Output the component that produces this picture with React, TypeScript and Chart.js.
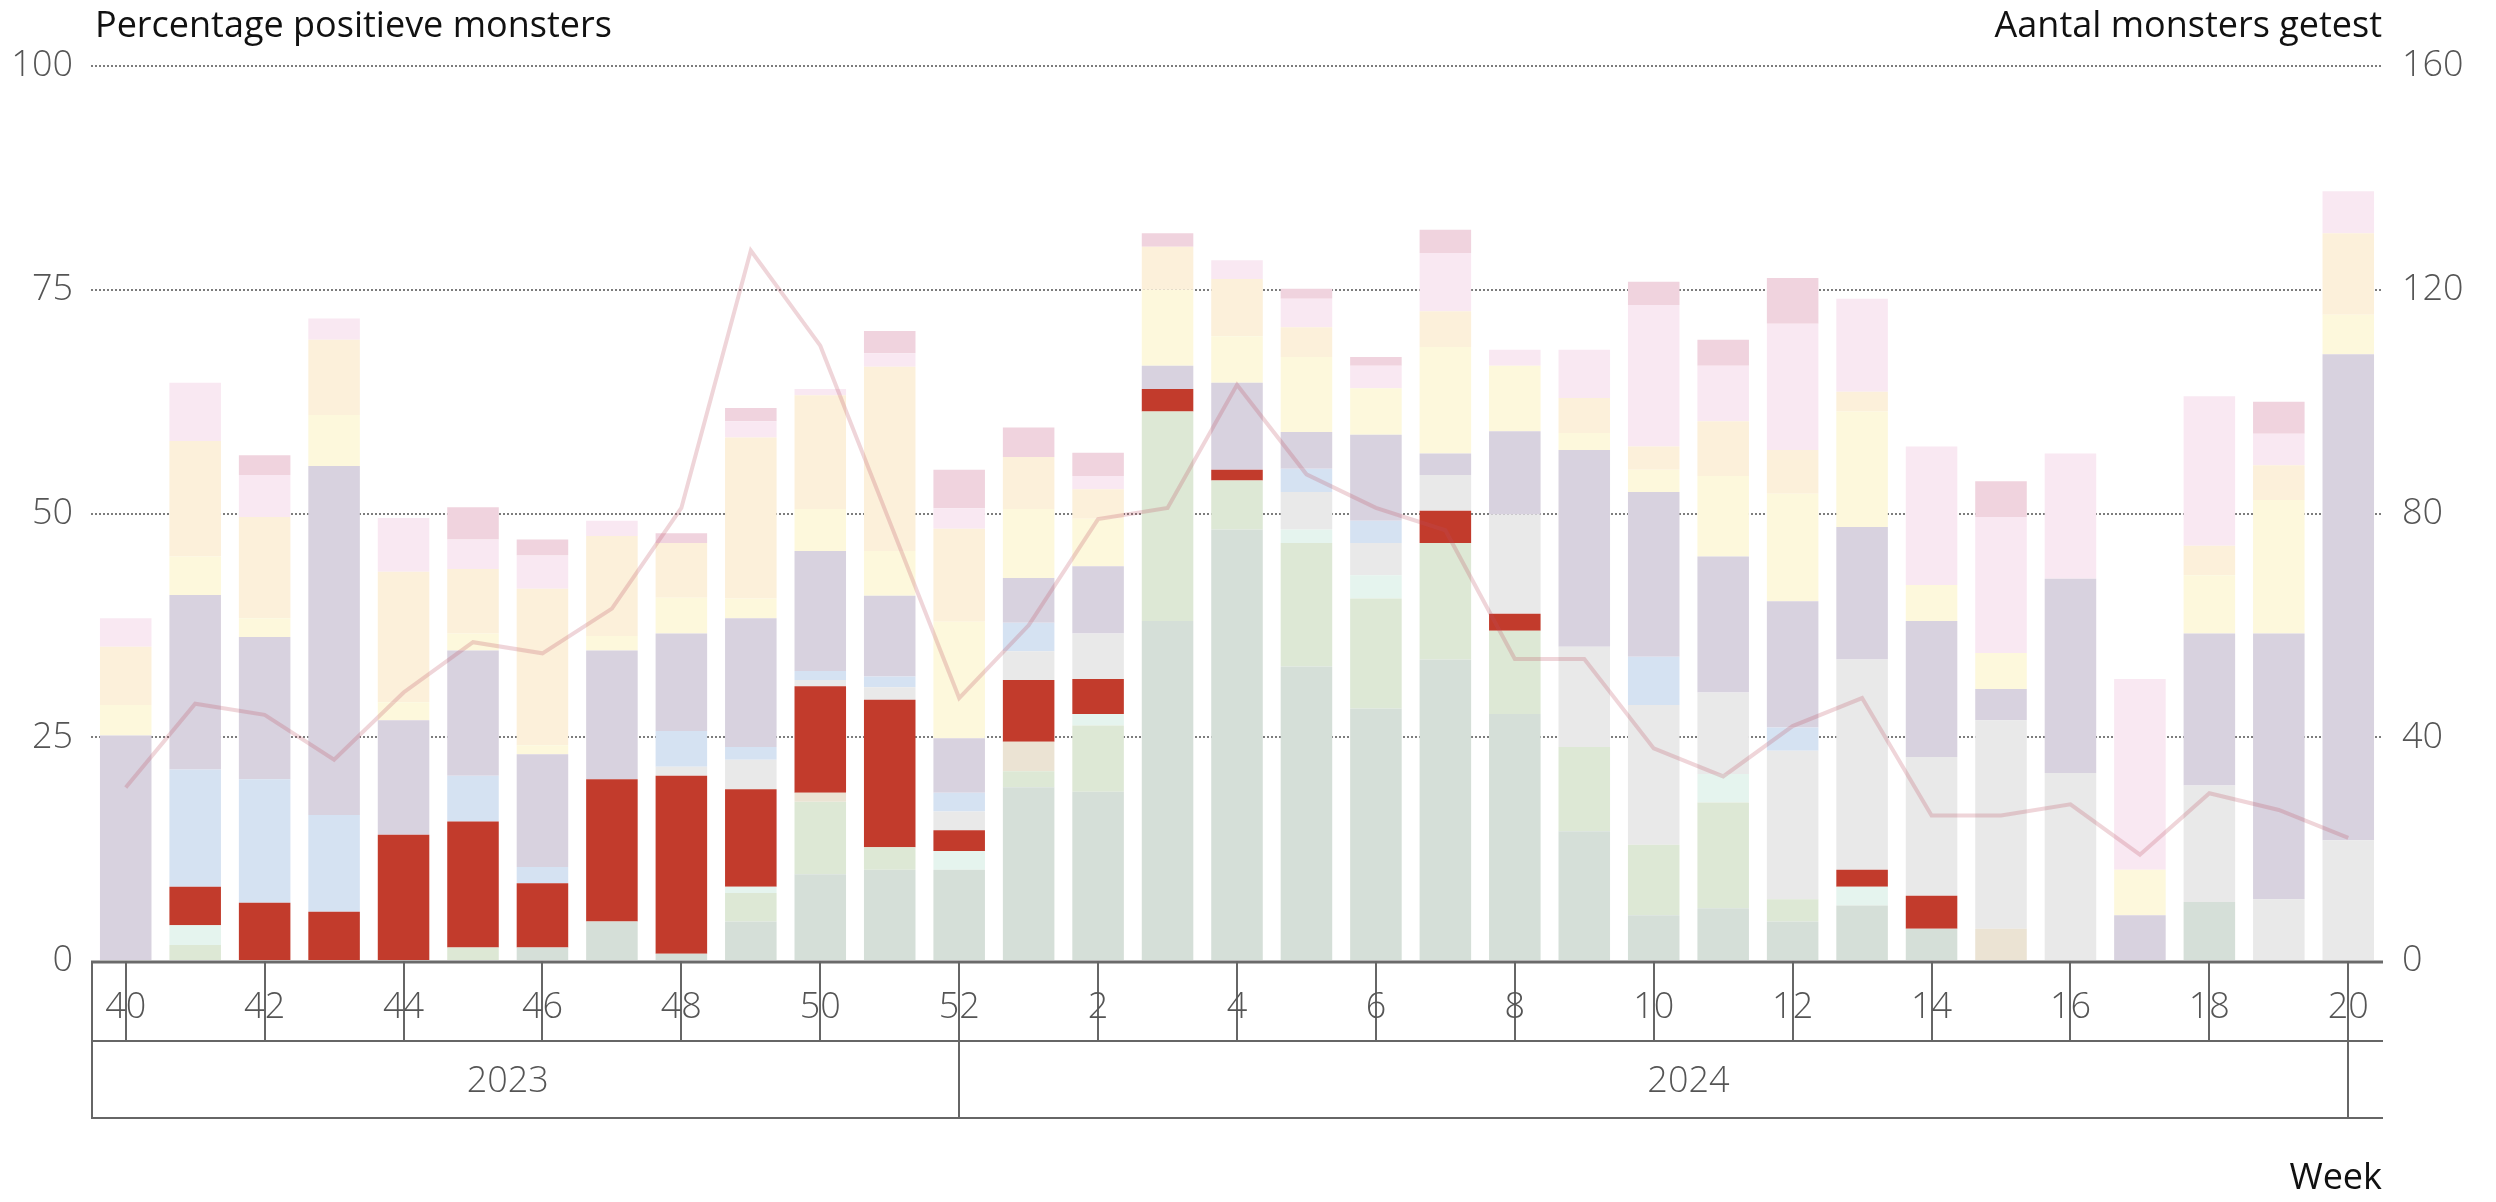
import React, { useEffect, useRef } from "react";
import { Chart, registerables } from "chart.js";

Chart.register(...registerables);

// ---- Data ----
const weeks = [
  "40", "41", "42", "43", "44", "45", "46", "47", "48", "49", "50", "51", "52",
  "1", "2", "3", "4", "5", "6", "7", "8", "9", "10", "11", "12", "13", "14", "15", "16", "17", "18", "19", "20",
];
const yearLabels = ["2023", "2024"];

// stacked series (percentage positive samples), bottom to top
const seriesGrayGreen = [0, 0, 0, 0, 0, 0, 1.5, 4.4, 0.8, 4.4, 9.7, 10.2, 10.2, 19.4, 18.9, 38.0, 48.2, 32.9, 28.2, 33.7, 27.6, 14.5, 5.1, 5.9, 4.4, 6.2, 3.6, 0, 0, 0, 6.6, 0, 0];
const seriesLightGreen = [0, 1.8, 0, 0, 0, 1.5, 0, 0, 0, 3.2, 8.1, 2.5, 0, 1.8, 7.4, 23.4, 5.5, 13.8, 12.3, 13.0, 9.3, 9.4, 7.9, 11.8, 2.5, 0, 0, 0, 0, 0, 0, 0, 0];
const seriesMint = [0, 2.2, 0, 0, 0, 0, 0, 0, 0, 0.7, 0, 0, 2.1, 0, 1.3, 0, 0, 1.5, 2.6, 0, 0, 0, 0, 3.2, 0, 2.1, 0, 0, 0, 0, 0, 0, 0];
const seriesTan = [0, 0, 0, 0, 0, 0, 0, 0, 0, 0, 1.0, 0, 0, 3.3, 0, 0, 0, 0, 0, 0, 0, 0, 0, 0, 0, 0, 0, 3.6, 0, 0, 0, 0, 0];
const seriesRed = [0, 4.3, 6.5, 5.5, 14.1, 14.1, 7.2, 15.9, 19.9, 10.9, 11.9, 16.5, 2.3, 6.9, 3.9, 2.5, 1.2, 0, 0, 3.6, 1.9, 0, 0, 0, 0, 1.9, 3.7, 0, 0, 0, 0, 0, 0];
const seriesGray = [0, 0, 0, 0, 0, 0, 0, 0, 1.0, 3.3, 0.7, 1.4, 2.1, 3.2, 5.1, 0, 0, 4.2, 3.6, 4.0, 11.1, 11.2, 15.6, 9.1, 16.6, 23.5, 15.5, 23.3, 21.0, 0, 13.0, 6.9, 13.5];
const seriesBlue = [0, 13.1, 13.8, 10.8, 0, 5.1, 1.8, 0, 4.0, 1.4, 1.0, 1.2, 2.1, 3.2, 0, 0, 0, 2.6, 2.5, 0, 0, 0, 5.4, 0, 2.6, 0, 0, 0, 0, 0, 0, 0, 0];
const seriesPurple = [25.2, 19.5, 15.9, 39.0, 12.8, 14.0, 12.6, 14.4, 10.9, 14.4, 13.4, 9.0, 6.1, 5.0, 7.5, 2.6, 9.7, 4.1, 9.6, 2.4, 9.3, 22.0, 18.4, 15.2, 14.1, 14.8, 15.2, 3.5, 21.7, 5.1, 17.0, 29.7, 54.3];
const seriesYellow = [3.4, 4.3, 2.1, 5.7, 2.0, 1.9, 1.0, 1.6, 4.0, 2.2, 4.7, 5.0, 13.0, 7.7, 5.3, 8.5, 5.2, 8.4, 5.2, 11.9, 7.3, 1.9, 2.5, 9.0, 12.0, 12.9, 4.0, 4.0, 0, 5.1, 6.5, 14.9, 4.4];
const seriesPeach = [6.5, 12.9, 11.3, 8.4, 14.6, 7.2, 17.5, 11.2, 6.1, 18.0, 12.7, 20.6, 10.4, 5.8, 3.3, 4.8, 6.4, 3.3, 0, 4.0, 0, 3.9, 2.6, 6.1, 4.9, 2.2, 0, 0, 0, 0, 3.3, 3.9, 9.1];
const seriesLightPink = [3.2, 6.5, 4.7, 2.4, 6.0, 3.3, 3.7, 1.7, 0, 1.8, 0.7, 1.5, 2.3, 0, 1.5, 0, 2.1, 3.2, 2.5, 6.5, 1.8, 5.4, 15.8, 6.2, 14.1, 10.4, 15.5, 15.2, 14.0, 21.3, 16.7, 3.5, 4.7];
const seriesDarkPink = [0, 0, 2.2, 0, 0, 3.6, 1.8, 0, 1.1, 1.5, 0, 2.5, 4.3, 3.3, 2.6, 1.5, 0, 1.1, 1.0, 2.6, 0, 0, 2.6, 2.9, 5.1, 0, 0, 4.0, 0, 0, 0, 3.6, 0];

// line series (number of samples tested, right axis)
const samplesTested = [31, 46, 44, 36, 48, 57, 55, 63, 81, 127, 110, 78.5, 47, 60, 79, 81, 103, 87, 81, 77, 54, 54, 38, 33, 42, 47, 26, 26, 28, 19, 30, 27, 22];

const stackSeries = [
  { data: seriesGrayGreen, color: "#d5dfd8" },
  { data: seriesLightGreen, color: "#dde8d5" },
  { data: seriesMint, color: "#e5f4ee" },
  { data: seriesTan, color: "#ebe3d3" },
  { data: seriesRed, color: "#c23b2c" },
  { data: seriesGray, color: "#e9e9e9" },
  { data: seriesBlue, color: "#d5e2f2" },
  { data: seriesPurple, color: "#d8d2df" },
  { data: seriesYellow, color: "#fdf8dc" },
  { data: seriesPeach, color: "#fcf0da" },
  { data: seriesLightPink, color: "#f9e8f2" },
  { data: seriesDarkPink, color: "#f0d3de" },
];

const FONT = "'Open Sans', 'DejaVu Sans', sans-serif";
const LABEL_COLOR = "#555555";
const LINE_COLOR = "#666666";

const axisPlugin = {
  id: "customAxis",
  afterDatasetsDraw(chart: any) {
    const { ctx, chartArea, scales } = chart;
    const xs = scales.x;
    const left = chartArea.left;
    const right = chartArea.right;
    const base = chartArea.bottom;
    const row1 = base + 80;
    const row2 = base + 157;
    ctx.save();
    // baseline
    ctx.strokeStyle = "#6a6a6a";
    ctx.lineWidth = 3;
    ctx.beginPath();
    ctx.moveTo(left, base + 1);
    ctx.lineTo(right, base + 1);
    ctx.stroke();

    ctx.strokeStyle = LINE_COLOR;
    ctx.lineWidth = 2;
    ctx.beginPath();
    ctx.moveTo(left, row1);
    ctx.lineTo(right, row1);
    ctx.moveTo(left, row2);
    ctx.lineTo(right, row2);
    ctx.moveTo(left + 1, base);
    ctx.lineTo(left + 1, row2);
    for (let i = 0; i < weeks.length; i += 2) {
      const px = Math.round(xs.getPixelForValue(i));
      ctx.moveTo(px, base);
      ctx.lineTo(px, row1);
    }
    const sepIdx = [12, weeks.length - 1];
    sepIdx.forEach((i) => {
      const px = Math.round(xs.getPixelForValue(i));
      ctx.moveTo(px, row1);
      ctx.lineTo(px, row2);
    });
    ctx.stroke();

    // week labels
    ctx.fillStyle = LABEL_COLOR;
    ctx.font = `300 36px ${FONT}`;
    ctx.textAlign = "center";
    ctx.textBaseline = "alphabetic";
    for (let i = 0; i < weeks.length; i += 2) {
      const px = xs.getPixelForValue(i);
      ctx.fillText(weeks[i], px, base + 57);
    }
    const yearPos = [5.5, 22.5];
    yearLabels.forEach((yl, k) => {
      ctx.fillText(yl, xs.getPixelForValue(yearPos[k]), base + 131);
    });

    // axis titles
    ctx.fillStyle = "#111111";
    ctx.font = `36px ${FONT}`;
    ctx.textAlign = "left";
    ctx.fillText("Percentage positieve monsters", 95, 37);
    ctx.textAlign = "right";
    ctx.fillText("Aantal monsters getest", right - 1, 37);
    ctx.fillText("Week", right - 1, 1189);
    ctx.restore();
  },
};

export default function App() {
  const canvasRef = useRef<HTMLCanvasElement | null>(null);

  useEffect(() => {
    if (!canvasRef.current) return;
    const datasets: any[] = stackSeries.map((s, i) => ({
      type: "bar",
      label: "s" + i,
      data: s.data,
      backgroundColor: s.color,
      borderWidth: 0,
      stack: "a",
      yAxisID: "y",
      barPercentage: 0.742,
      categoryPercentage: 1,
      order: 1,
    }));
    datasets.push({
      type: "line",
      label: "Aantal monsters getest",
      data: samplesTested,
      yAxisID: "y1",
      borderColor: "rgba(190, 80, 95, 0.24)",
      borderWidth: 4,
      pointRadius: 0,
      tension: 0,
      fill: false,
      order: 0,
    });

    const chart = new Chart(canvasRef.current, {
      type: "bar",
      data: { labels: weeks, datasets },
      options: {
        responsive: false,
        animation: false,
        devicePixelRatio: 1,
        layout: { padding: { top: 66, bottom: 241, left: 0, right: 0 } },
        plugins: {
          legend: { display: false },
          tooltip: { enabled: false },
        },
        scales: {
          x: {
            display: false,
            stacked: true,
            offset: true,
          },
          y: {
            position: "left",
            stacked: true,
            min: 0,
            max: 100,
            ticks: {
              stepSize: 25,
              padding: 18,
              color: LABEL_COLOR,
              font: { family: FONT, size: 36, weight: "300" },
            },
            grid: {
              drawTicks: false,
              lineWidth: 2,
              color: (c: any) => (c.tick && c.tick.value === 0 ? "rgba(0,0,0,0)" : "#7c7c7c"),
            },
            border: { display: false, dash: [2, 2] },
            afterFit: (scale: any) => {
              scale.width = 91;
            },
          },
          y1: {
            position: "right",
            min: 0,
            max: 160,
            ticks: {
              stepSize: 40,
              padding: 19,
              color: LABEL_COLOR,
              font: { family: FONT, size: 36, weight: "300" },
            },
            grid: { display: false, drawTicks: false },
            border: { display: false },
            afterFit: (scale: any) => {
              scale.width = 113;
            },
          },
        },
      } as any,
      plugins: [axisPlugin],
    });
    return () => chart.destroy();
  }, []);

  return (
    <div style={{ position: "absolute", left: 0, top: 0, width: 2496, height: 1202, background: "#fff" }}>
      <canvas ref={canvasRef} width={2496} height={1202} style={{ display: "block" }} />
    </div>
  );
}
